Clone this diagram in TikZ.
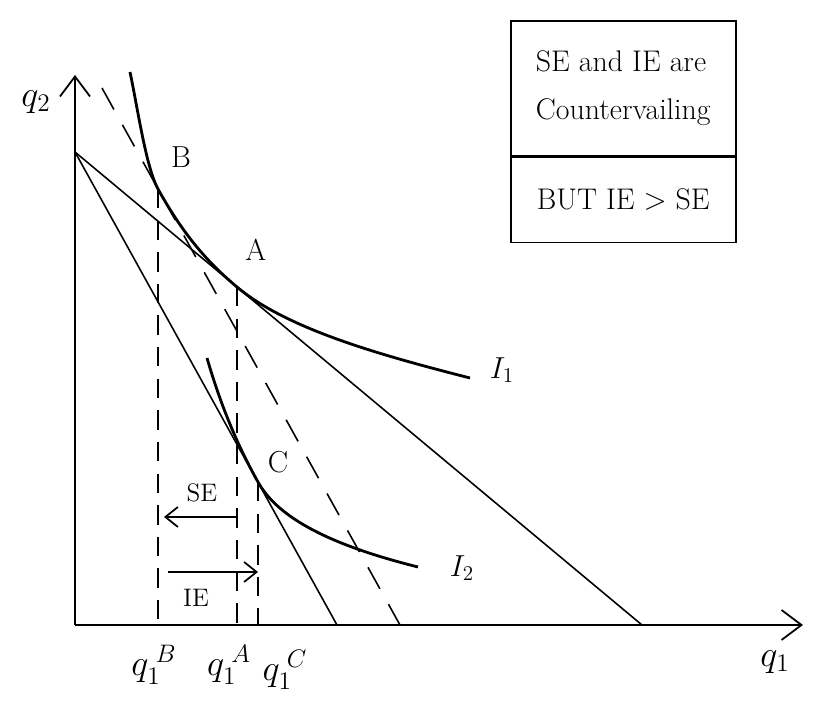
\documentclass[tikz,border=0pt]{standalone}
\usepackage{tikz}
\usetikzlibrary{arrows.meta, positioning}
\tikzset{
  axis/.style = {-{Straight Barb[length=4mm,width=6mm]}, line width=1pt},
  budget/.style = {line width=0.9pt},
  compensated/.style = {budget, dash pattern=on 14pt off 10pt},
  indiff/.style = {line width=1.6pt},
  guide/.style = {line width=0.8pt, dash pattern=on 11pt off 7pt},
  effect/.style = {-{Straight Barb[length=2.5mm,width=4mm]}, line width=1pt},
  lbl/.style = {font=\Large},
  ptlbl/.style = {font=\LARGE},
  qlbl/.style = {font=\huge, inner sep=0pt},
  notebox/.style = {rectangle, draw, line width=0.9pt, minimum width=4.5cm, align=left, anchor=north west, inner xsep=5pt, font=\fontsize{17}{27}\selectfont}
}
\begin{document}
\begin{tikzpicture}[x=0.02cm, y=-0.02cm]
\useasboundingbox (0,0) rectangle (816,719);

% axes
\coordinate (O) at (75,625);
\coordinate (ytop) at (75,75);
\coordinate (xend) at (803,625);
\draw[axis] (O) -- (ytop);
\draw[axis] (O) -- (xend);
\node[qlbl] (q2) at (36,102) {$q_2$};
\node[qlbl] (q1) at (775,662) {$q_1$};

% budget lines
\coordinate (M) at (75,152);
\coordinate (X1) at (642,625);
\coordinate (X2) at (337,625);
\coordinate (Dtop) at (102,88);
\coordinate (X3) at (400,625);
\draw[budget] (M) -- (X1);
\draw[budget] (M) -- (X2);
\draw[compensated] (Dtop) -- (X3);

% bundles
\coordinate (B) at (158,189);
\coordinate (A) at (237,287);
\coordinate (C) at (258,482);
\node[ptlbl] (labB) at (181,157) {B};
\node[ptlbl] (labA) at (256,250) {A};
\node[ptlbl] (labC) at (278,462) {C};

% indifference curves
\draw[indiff] (130,72) .. controls (138,110) and (146,167) .. (B)
  .. controls (183,234) and (207,262) .. (A)
  .. controls (287,329) and (380,355) .. (470,378);
\draw[indiff] (207,358) .. controls (222,410) and (240,450) .. (C)
  .. controls (278,518) and (330,545) .. (418,567);
\node[ptlbl] (I1) at (502,370) {$I_1$};
\node[ptlbl] (I2) at (462,568) {$I_2$};

% quantity guides
\draw[guide] (B) -- (B |- O);
\draw[guide] (A) -- (A |- O);
\draw[guide] (C) -- (C |- O);
\node[qlbl] (qB) at (154,665) {$q_1^{\kern4pt B}$};
\node[qlbl] (qA) at (229,665) {$q_1^{\kern4pt A}$};
\node[qlbl] (qC) at (285,670) {$q_1^{\kern4pt C}$};

% substitution and income effects
\coordinate (seR) at (237,517);
\coordinate (seL) at (164,517);
\coordinate (ieL) at (168,572);
\coordinate (ieR) at (258,572);
\draw[effect] (seR) -- (seL);
\draw[effect] (ieL) -- (ieR);
\node[lbl] (SE) at (202,493) {SE};
\node[lbl] (IE) at (196,598) {IE};

% note
\node[notebox, minimum height=2.7cm] (note1) at (510,20) {SE and IE are\\Countervailing};
\node[notebox, minimum height=1.7cm, below=0pt of note1.south west, anchor=north west] (note2) {BUT IE $>$ SE};

\end{tikzpicture}
\end{document}
